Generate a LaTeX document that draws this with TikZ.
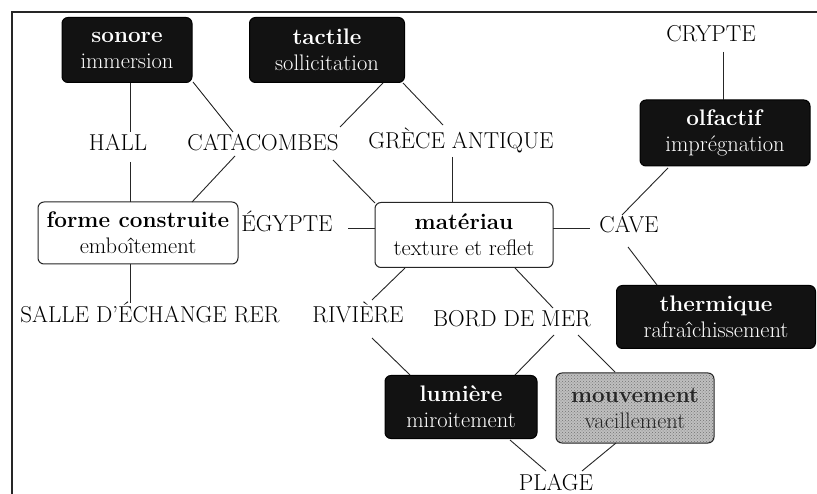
\documentclass[tikz,border=0pt]{standalone}
\usepackage{fontspec}
\usetikzlibrary{calc,patterns}
\tikzset{
  lbl/.style={inner sep=0pt, anchor=base, font=\fontsize{23}{26}\selectfont},
  boxbase/.style={rounded corners=6pt, align=center, inner sep=1pt, font=\fontsize{22.5}{26}\selectfont, line width=1pt},
  blackbox/.style={boxbase, fill=black!93, draw=black, text=white},
  whitebox/.style={boxbase, fill=white, draw=black!85},
  graybox/.style={boxbase, draw=black!85, preaction={fill=gray!50}, pattern=crosshatch dots, pattern color=black!55, text=black!85},
  conn/.style={draw=black!85, line width=0.9pt},
  frame/.style={draw=black!85, line width=1.5pt}
}
\begin{document}
\begin{tikzpicture}[x=1pt,y=-1pt]
\useasboundingbox[fill=white] (0,0) rectangle (817,494);
\draw[frame] (12,494) -- (12,12) -- (817,12);

% boxes
\node[blackbox, minimum width=130pt, minimum height=65pt] (son) at (127,50) {\textbf{sonore}\\immersion};
\node[blackbox, minimum width=155pt, minimum height=65pt] (tac) at (327,50) {\textbf{tactile}\\sollicitation};
\node[blackbox, minimum width=170pt, minimum height=66pt] (olf) at (725,133) {\textbf{olfactif}\\imprégnation};
\node[whitebox, minimum width=200pt, minimum height=62pt] (for) at (138,233) {\textbf{forme construite}\\emboîtement};
\node[whitebox, minimum width=178pt, minimum height=65pt] (mat) at (464,235) {\textbf{matériau}\\texture et reflet};
\node[blackbox, minimum width=199pt, minimum height=63pt] (the) at (716,317) {\textbf{thermique}\\rafraîchissement};
\node[blackbox, minimum width=152pt, minimum height=63pt] (lum) at (461,407) {\textbf{lumière}\\miroitement};
\node[graybox, minimum width=158pt, minimum height=70pt] (mou) at (635,408) {\textbf{mouvement}\\vacillement};

% labels
\node[lbl] (cry) at (711,42) {CRYPTE};
\node[lbl] (hal) at (118,151) {HALL};
\node[lbl] (cat) at (263,151) {CATACOMBES};
\node[lbl] (gre) at (461,149) {GRÈCE ANTIQUE};
\node[lbl] (egy) at (287,232) {ÉGYPTE};
\node[lbl] (cav) at (629,233) {CAVE};
\node[lbl] (sal) at (150,323) {SALLE D'ÉCHANGE RER};
\node[lbl] (riv) at (358,323) {RIVIÈRE};
\node[lbl] (bor) at (512,327) {BORD DE MER};
\node[lbl] (pla) at (556,490) {PLAGE};

% connectors
\draw[conn] ($(son)+(3,33)$) -- ($(hal.base)+(12,-19)$);
\draw[conn] ($(hal.base)+(12,11)$) -- ($(for)+(-8,-31)$);
\draw[conn] ($(son)+(66,32)$) -- ($(cat.base)+(-30,-19)$);
\draw[conn] ($(tac)+(56,33)$) -- ($(cat.base)+(77,-24)$);
\draw[conn] ($(tac)+(76,33)$) -- ($(gre.base)+(-18,-24)$);
\draw[conn] ($(cat.base)+(-28,5)$) -- ($(for)+(54,-31)$);
\draw[conn] ($(cat.base)+(70,9)$) -- ($(mat)+(-89,-32)$);
\draw[conn] ($(gre.base)+(-9,8)$) -- ($(mat)+(-12,-33)$);
\draw[conn] ($(egy.base)+(61,-4)$) -- ($(mat)+(-89,-7)$);
\draw[conn] ($(mat)+(89,-7)$) -- ($(cav.base)+(-39,-5)$);
\draw[conn] ($(cav.base)+(-7,-18)$) -- ($(olf)+(-57,35)$);
\draw[conn] ($(cav.base)+(-1,14)$) -- ($(the)+(-59,-32)$);
\draw[conn] ($(cry.base)+(12,10)$) -- ($(olf)+(-2,-33)$);
\draw[conn] ($(for)+(-8,31)$) -- ($(sal.base)+(-20,-20)$);
\draw[conn] ($(riv.base)+(14,-23)$) -- ($(mat)+(-59,33)$);
\draw[conn] ($(mat)+(51,33)$) -- ($(bor.base)+(41,-19)$);
\draw[conn] ($(riv.base)+(14,15)$) -- ($(lum)+(-51,-32)$);
\draw[conn] ($(bor.base)+(42,8)$) -- ($(lum)+(54,-32)$);
\draw[conn] ($(bor.base)+(66,8)$) -- ($(mou)+(-20,-36)$);
\draw[conn] ($(lum)+(49,33)$) -- ($(pla.base)+(-10,-19)$);
\draw[conn] ($(mou)+(-19,35)$) -- ($(pla.base)+(26,-19)$);
\end{tikzpicture}
\end{document}
